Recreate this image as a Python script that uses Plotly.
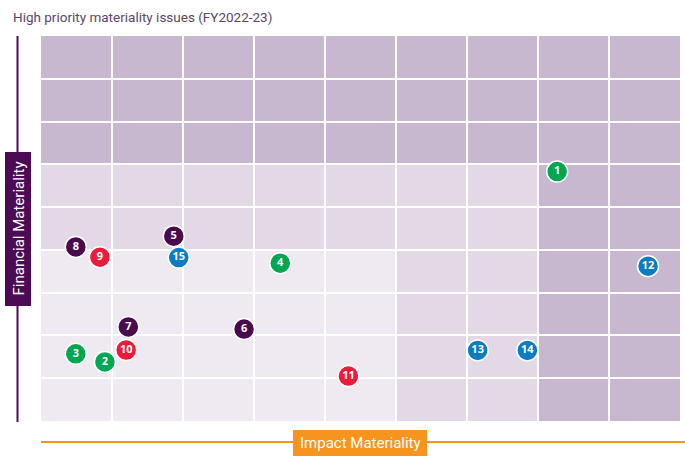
import plotly.graph_objects as go

# ---- data ----
issue_ids = [1, 2, 3, 4, 5, 6, 7, 8, 9, 10, 11, 12, 13, 14, 15]
impact_materiality = [7.27, 0.90, 0.49, 3.37, 1.87, 2.86, 1.23, 0.49, 0.83, 1.20, 4.33, 8.55, 6.15, 6.85, 1.94]
financial_materiality = [5.83, 1.38, 1.57, 3.69, 4.32, 2.15, 2.20, 4.07, 3.83, 1.66, 1.05, 3.62, 1.65, 1.65, 3.82]
issue_group = ["green", "green", "green", "green", "purple", "purple", "purple", "purple",
               "red", "red", "red", "blue", "blue", "blue", "blue"]

# shading level of each grid cell, rows listed top (row 9) to bottom (row 1)
cell_levels = [
    [3, 3, 3, 3, 3, 3, 3, 3, 3],
    [3, 3, 3, 3, 3, 3, 3, 3, 3],
    [3, 3, 3, 3, 3, 3, 3, 3, 3],
    [2, 2, 2, 2, 2, 2, 2, 3, 3],
    [2, 2, 2, 2, 2, 2, 2, 3, 3],
    [1, 1, 1, 1, 1, 2, 2, 3, 3],
    [1, 1, 1, 1, 1, 2, 2, 3, 3],
    [1, 1, 1, 1, 1, 2, 2, 3, 3],
    [1, 1, 1, 1, 1, 2, 2, 3, 3],
]

level_colors = {1: "#EFEAF1", 2: "#E3D9E6", 3: "#C7B8CF"}
group_colors = {"green": "#00A651", "purple": "#4A0B4E", "red": "#EC1B3B", "blue": "#0A7DC1"}

N = len(cell_levels)

fig = go.Figure()

shapes = []
for r, row in enumerate(cell_levels):
    yb = N - 1 - r
    for c, lvl in enumerate(row):
        shapes.append(dict(type="rect", xref="x", yref="y", x0=c, x1=c + 1, y0=yb, y1=yb + 1,
                           fillcolor=level_colors[lvl], line=dict(width=0), layer="below"))

# axis decorations (paper coords)
W_PLOT, H_PLOT = 639, 385
L, T = 41, 36


def px_x(p):
    return (p - L) / W_PLOT


def px_y(p):
    return (T + H_PLOT - p) / H_PLOT


# vertical purple axis line and box
shapes.append(dict(type="line", xref="paper", yref="paper", x0=px_x(17.5), x1=px_x(17.5),
                   y0=px_y(36), y1=px_y(422), line=dict(color="#4D0A55", width=2)))
shapes.append(dict(type="rect", xref="paper", yref="paper", x0=px_x(5), x1=px_x(31),
                   y0=px_y(306), y1=px_y(152), fillcolor="#4D0A55", line=dict(width=0)))
# horizontal orange axis line and box
shapes.append(dict(type="line", xref="paper", yref="paper", x0=0, x1=px_x(685),
                   y0=px_y(442), y1=px_y(442), line=dict(color="#F7941D", width=2)))
shapes.append(dict(type="rect", xref="paper", yref="paper", x0=px_x(293), x1=px_x(427),
                   y0=px_y(456), y1=px_y(430), fillcolor="#F7941D", line=dict(width=0)))

fig.add_trace(go.Scatter(
    x=impact_materiality, y=financial_materiality,
    mode="markers+text",
    text=[str(i) for i in issue_ids],
    textposition="middle center",
    textfont=dict(color="white", size=11, family="Open Sans", weight="bold"),
    marker=dict(size=21, color=[group_colors[g] for g in issue_group],
                line=dict(color="white", width=1.5)),
    cliponaxis=False,
    hoverinfo="skip",
    showlegend=False,
))

label_font = "Roboto, sans-serif"
annotations = [
    dict(text="High priority materiality issues (FY2022-23)", xref="paper", yref="paper",
         x=px_x(11), y=px_y(17), xanchor="left", yanchor="middle", showarrow=False,
         font=dict(size=13.5, color="#5C466C", family=label_font)),
    dict(text="Financial Materiality", xref="paper", yref="paper", x=px_x(18.5), y=px_y(229),
         xanchor="center", yanchor="middle", textangle=-90, showarrow=False,
         font=dict(size=15, color="white", family=label_font)),
    dict(text="Impact Materiality", xref="paper", yref="paper", x=px_x(360), y=px_y(443),
         xanchor="center", yanchor="middle", showarrow=False,
         font=dict(size=15, color="white", family=label_font)),
]

fig.update_layout(
    width=685, height=458,
    margin=dict(l=L, r=685 - L - W_PLOT, t=T, b=458 - T - H_PLOT),
    paper_bgcolor="white", plot_bgcolor="white",
    shapes=shapes, annotations=annotations,
    xaxis=dict(range=[0, 9], dtick=1, tick0=0, showgrid=True, gridcolor="white", gridwidth=2,
               showticklabels=False, zeroline=False, showline=False, ticks="", fixedrange=True),
    yaxis=dict(range=[0, 9], dtick=1, tick0=0, showgrid=True, gridcolor="white", gridwidth=2,
               showticklabels=False, zeroline=False, showline=False, ticks="", fixedrange=True),
)

fig.write_html(
    "out.html",
    config={"displayModeBar": False},
    post_script="document.body.style.margin='0';document.body.style.overflow='hidden';",
)
